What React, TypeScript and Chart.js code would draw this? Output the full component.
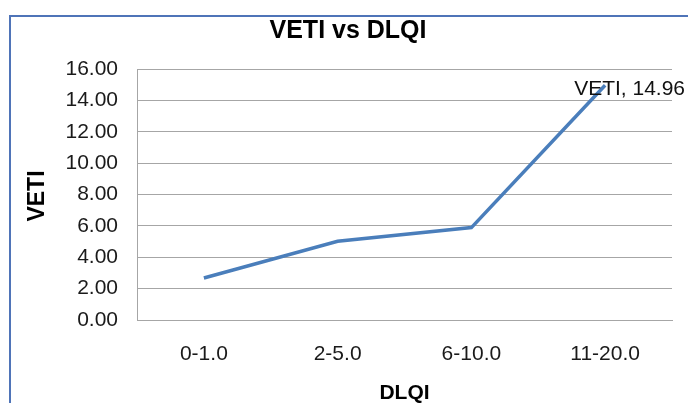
import React, { useEffect, useRef } from "react";
import { Chart, registerables } from "chart.js";

Chart.register(...registerables);

const categories = ["0-1.0", "2-5.0", "6-10.0", "11-20.0"];
const vetiValues = [2.68, 5.02, 5.89, 14.96];
const seriesName = "VETI";
const chartTitle = "VETI vs DLQI";
const xTitle = "DLQI";
const yTitle = "VETI";

const FONT = '"Liberation Sans", Arial, sans-serif';

const decorPlugin = {
  id: "decor",
  beforeDraw(chart: any) {
    const ctx = chart.ctx;
    ctx.save();
    ctx.fillStyle = "#ffffff";
    ctx.fillRect(0, 0, chart.width, chart.height);
    ctx.strokeStyle = "#4f74b8";
    ctx.lineWidth = 2;
    ctx.strokeRect(10, 16, chart.width + 20, chart.height + 20);
    ctx.restore();
  },
  afterDraw(chart: any) {
    const ctx = chart.ctx;
    const area = chart.chartArea;
    ctx.save();
    ctx.fillStyle = "#000000";
    ctx.textAlign = "center";
    ctx.textBaseline = "middle";
    ctx.font = `bold 25px ${FONT}`;
    ctx.fillText(chartTitle, 348, 31);
    ctx.font = `bold 21px ${FONT}`;
    ctx.fillText(xTitle, (area.left + area.right) / 2, 393);
    ctx.translate(38, 196);
    ctx.rotate(-Math.PI / 2);
    ctx.font = `bold 23px ${FONT}`;
    ctx.fillText(yTitle, 0, 0);
    ctx.restore();

    // data label on last point
    const meta = chart.getDatasetMeta(0);
    const last = meta.data[meta.data.length - 1];
    const v = vetiValues[vetiValues.length - 1];
    ctx.save();
    ctx.fillStyle = "#111111";
    ctx.font = `21px ${FONT}`;
    ctx.textAlign = "left";
    ctx.textBaseline = "middle";
    ctx.fillText(`${seriesName}, ${v.toFixed(2)}`, last.x - 31, last.y + 4);
    ctx.restore();
  },
};

export default function App() {
  const ref = useRef<HTMLCanvasElement | null>(null);
  useEffect(() => {
    if (!ref.current) return;
    const chart = new Chart(ref.current, {
      type: "line",
      data: {
        labels: categories,
        datasets: [
          {
            label: seriesName,
            data: vetiValues,
            borderColor: "#4a7ebb",
            backgroundColor: "#4a7ebb",
            borderWidth: 3.5,
            pointRadius: 0,
            tension: 0,
            fill: false,
          },
        ],
      },
      options: {
        responsive: false,
        animation: false,
        devicePixelRatio: 1,
        layout: { padding: { left: 0, right: 16, top: 69, bottom: 0 } },
        plugins: {
          legend: { display: false },
          title: { display: false },
          tooltip: { enabled: false },
        },
        scales: {
          x: {
            type: "category",
            offset: true,
            grid: { display: false, drawTicks: false },
            border: { display: true, color: "#a6a6a6", width: 1 },
            ticks: {
              color: "#1a1a1a",
              font: { family: FONT, size: 21 },
              padding: 22,
              maxRotation: 0,
            },
            afterFit(scale: any) {
              scale.height = 83;
            },
          },
          y: {
            min: 0,
            max: 16,
            grid: { color: "#a6a6a6", lineWidth: 1, drawTicks: false },
            border: { display: true, color: "#a6a6a6", width: 1 },
            ticks: {
              stepSize: 2,
              color: "#1a1a1a",
              font: { family: FONT, size: 21 },
              padding: 19,
              callback: (val: any) => Number(val).toFixed(2),
            },
            afterFit(scale: any) {
              scale.width = 137;
            },
          },
        },
      },
      plugins: [decorPlugin],
    });
    return () => chart.destroy();
  }, []);
  return (
    <div style={{ position: "fixed", left: 0, top: 0, width: 688, height: 403 }}>
      <canvas ref={ref} width={688} height={403} style={{ display: "block", width: 688, height: 403 }} />
    </div>
  );
}
